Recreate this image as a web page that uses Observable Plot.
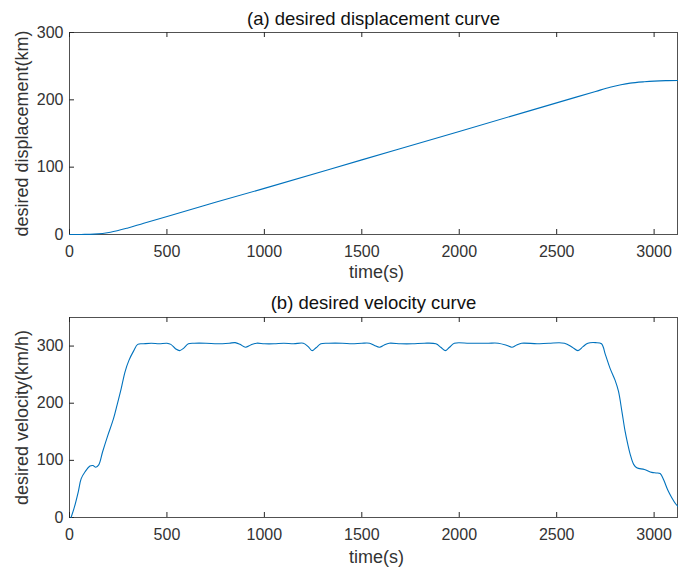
<!DOCTYPE html>
<html>
<head>
<meta charset="utf-8">
<script src="https://cdn.jsdelivr.net/npm/d3@7"></script>
<script src="https://cdn.jsdelivr.net/npm/@observablehq/plot@0.6"></script>
<style>
  html, body { margin: 0; padding: 0; background: #fff; }
  #chart svg { display: block; }
</style>
</head>
<body>
<div id="chart"></div>
<script>
// Displacement (km) vs time (s)
const dispTime = [0, 60, 125, 210, 296, 381, 501, 723, 1000, 1500, 2000, 2364, 2600, 2700, 2774, 2830, 2877, 2950, 3000, 3060, 3120];
const dispValue = [0, 0.1, 0.5, 3.4, 9.4, 16.8, 26.8, 45.6, 68.5, 110.8, 153, 184, 204, 212.5, 218.8, 222.5, 224.8, 226.8, 227.8, 228.5, 228.8];

// Velocity (km/h) vs time (s)
const velTime = [8, 25, 45, 60, 80, 105, 120, 135, 150, 170, 195, 225, 245, 265, 285, 305, 330, 350, 380, 420, 460, 500, 520, 545, 565, 585, 610, 640, 700, 760, 820, 850, 875, 903, 930, 960, 1000, 1050, 1100, 1150, 1200, 1225, 1245, 1265, 1290, 1330, 1400, 1450, 1500, 1540, 1565, 1591, 1615, 1640, 1700, 1760, 1820, 1880, 1905, 1928, 1950, 1975, 2050, 2100, 2150, 2200, 2245, 2270, 2295, 2320, 2400, 2460, 2540, 2580, 2609, 2635, 2660, 2700, 2730, 2750, 2774, 2800, 2817, 2835, 2851, 2865, 2877, 2895, 2911, 2950, 2988, 3010, 3031, 3050, 3070, 3090, 3110, 3123];
const velValue = [0, 18, 45, 68, 80, 90, 91, 88, 92, 115, 142, 172, 198, 225, 255, 275, 292, 303, 304, 305, 304, 305, 303, 295, 292, 296, 304, 305, 305, 304, 305, 306, 303, 298, 302, 305, 304, 304, 305, 304, 305, 299, 292, 297, 304, 305, 305, 304, 305, 305, 301, 298, 302, 305, 304, 304, 305, 304, 298, 292, 298, 305, 305, 305, 305, 305, 301, 298, 302, 305, 304, 305, 305, 298, 292, 299, 305, 306, 304, 285, 261, 240, 221, 185, 151, 128, 111, 93, 87, 84, 79, 78, 77, 65, 48, 35, 24, 19];

const xTicks = [0, 500, 1000, 1500, 2000, 2500, 3000];
const dispTicks = [0, 100, 200, 300];
const velTicks = [0, 100, 200, 300];

const titleA = "(a) desired displacement curve";
const titleB = "(b) desired velocity curve";
const xLabel = "time(s)";
const yLabelA = "desired displacement(km)";
const yLabelB = "desired velocity(km/h)";

const dispData = dispTime.map((t, i) => ({t, v: dispValue[i]}));
const velData = velTime.map((t, i) => ({t, v: velValue[i]}));

const FONT = "'Liberation Sans', Arial, Helvetica, sans-serif";
const AX = "#262626";
const TXT = "#333333";
const LINE = "#0072BD";

function panel({data, yDomain, yTicks, title, yLabel, marginTop, marginBottom, height, titleDy, xLabelDy}) {
  const inner = height - marginTop - marginBottom;
  return Plot.plot({
    width: 678,
    height,
    marginLeft: 69,
    marginRight: 1,
    marginTop,
    marginBottom,
    style: {fontFamily: FONT, fontSize: "16px", color: TXT, background: "#fff", overflow: "visible"},
    x: {domain: [0, 3120]},
    y: {domain: yDomain},
    marks: [
      Plot.frame({stroke: AX, strokeOpacity: 0.8}),
      Plot.ruleX(xTicks, {x: d => d, insetTop: inner - 5, stroke: AX}),
      Plot.ruleX(xTicks, {x: d => d, insetBottom: inner - 5, stroke: AX}),
      Plot.ruleY(yTicks, {y: d => d, x1: 0, x2: 3120 * 5 / 608, stroke: AX}),
      Plot.axisX(xTicks, {tickSize: 0, tickPadding: 11, label: null, fontSize: 16, fill: TXT, tickFormat: d => String(d)}),
      Plot.axisY(yTicks, {tickSize: 0, tickPadding: 6, label: null, fontSize: 16, fill: TXT, tickFormat: d => String(d)}),
      Plot.line(data, {x: "t", y: "v", stroke: LINE, strokeWidth: 1.1, curve: "catmull-rom"}),
      Plot.text([title], {text: d => d, frameAnchor: "top", lineAnchor: "middle", textAnchor: "middle", dy: titleDy, fontSize: 18.5, fill: "#111"}),
      Plot.text([xLabel], {text: d => d, frameAnchor: "bottom", lineAnchor: "middle", textAnchor: "middle", dx: 3, dy: xLabelDy, fontSize: 18, fill: TXT}),
      Plot.text([yLabel], {text: d => d, frameAnchor: "left", lineAnchor: "middle", textAnchor: "middle", dx: -47, rotate: -90, fontSize: 18, fill: TXT})
    ]
  });
}

const topPanel = panel({data: dispData, yDomain: [0, 300], yTicks: dispTicks, title: titleA, yLabel: yLabelA, marginTop: 32, marginBottom: 51, height: 285, titleDy: -13, xLabelDy: 38});
const bottomPanel = panel({data: velData, yDomain: [0, 350], yTicks: velTicks, title: titleB, yLabel: yLabelB, marginTop: 32, marginBottom: 53, height: 285, titleDy: -14, xLabelDy: 40});

const el = document.getElementById("chart");
el.appendChild(topPanel);
el.appendChild(bottomPanel);
</script>
</body>
</html>
